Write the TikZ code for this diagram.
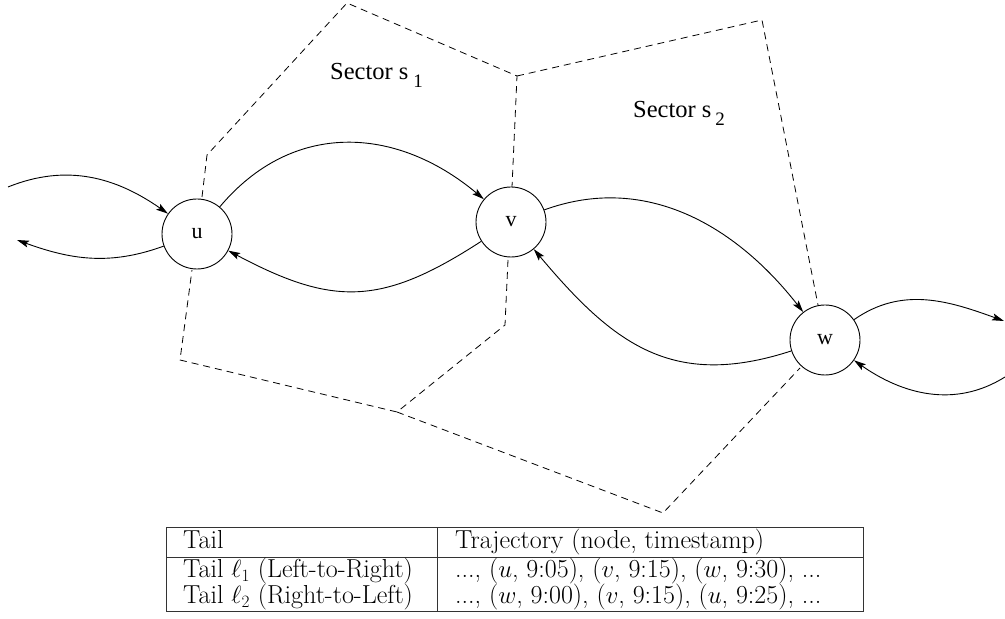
\documentclass[tikz,border=0pt]{standalone}
\usepackage{fontspec}
\usepackage{graphicx}
\newfontfamily\timesf{Liberation Serif}
\usetikzlibrary{arrows.meta}
\begin{document}
\begin{tikzpicture}[x=1pt,y=1pt,
  vert/.style={circle,draw,line width=0.9pt,minimum size=70pt,inner sep=0pt,font=\timesf\fontsize{22}{22}\selectfont},
  arr/.style={line width=0.9pt,-{Stealth[length=12pt,width=7pt,inset=2.5pt]}},
  sect/.style={dash pattern=on 7pt off 5pt,line width=0.8pt},
  lab/.style={anchor=base west,inner sep=0pt,font=\timesf\fontsize{24.5}{24.5}\selectfont},
  tab/.style={anchor=base west,inner sep=0pt,font=\fontsize{26}{26}\selectfont},
  trule/.style={line width=1pt,draw=black!80}]
\useasboundingbox (0,0) rectangle (1005,619);
% sectors
\draw[sect] (202,422) -- (207,464) -- (347,616) -- (517,543) -- (512,432);
\draw[sect] (508,359) -- (505,294) -- (397,207) -- (180,259) -- (192,349);
\draw[sect] (517,543) -- (762,599) -- (818,314);
\draw[sect] (397,207) -- (663,106) -- (800,251);
\node[lab] (s1) at (330,539) {Sector s\kern5pt\raisebox{-8pt}{\fontsize{19}{19}\selectfont 1}};
\node[lab] (s2) at (633,501) {Sector s\kern4pt\raisebox{-8pt}{\fontsize{19}{19}\selectfont 2}};
% vertices
\node[vert,fill=white] (u) at (197,385) {u};
\node[vert,fill=white] (v) at (511,397) {v};
\node[vert,fill=white] (w) at (825,279) {w};
\coordinate (lin) at (8,432);
\coordinate (lout) at (17,379);
\coordinate (rout) at (1004,298);
\coordinate (rin) at (1005,242);
% edges
\draw[arr] (u) to[out=50,in=140,looseness=1.1] (v);
\draw[arr] (v) to[out=213,in=-28,looseness=1.2] (u);
\draw[arr] (v) to[out=20,in=128] (w);
\draw[arr] (w) to[out=198,in=-50,looseness=1.15] (v);
\draw[arr] (w) to[out=35,in=160] (rout);
\draw[arr] (rin) to[out=212,in=-35] (w);
\draw[arr] (lin) to[out=22,in=145] (u);
\draw[arr] (u) to[out=200,in=-20] (lout);
% table
\draw[trule] (166,7) rectangle (863,91);
\draw[trule] (166,61) -- (863,61);
\draw[trule] (437,7) -- (437,91);
\node[tab] (h1) at (183,70) {Tail};
\node[tab] (h2) at (455,70) {Trajectory (node, timestamp)};
\node[tab] (a1) at (183,41) {Tail $\ell_1$ (Left-to-Right)};
\node[tab] (a2) at (455,41) {..., ($u$, 9:05), ($v$, 9:15), ($w$, 9:30), ...};
\node[tab] (b1) at (183,15) {Tail $\ell_2$ (Right-to-Left)};
\node[tab] (b2) at (455,15) {..., ($w$, 9:00), ($v$, 9:15), ($u$, 9:25), ...};
\end{tikzpicture}
\end{document}
